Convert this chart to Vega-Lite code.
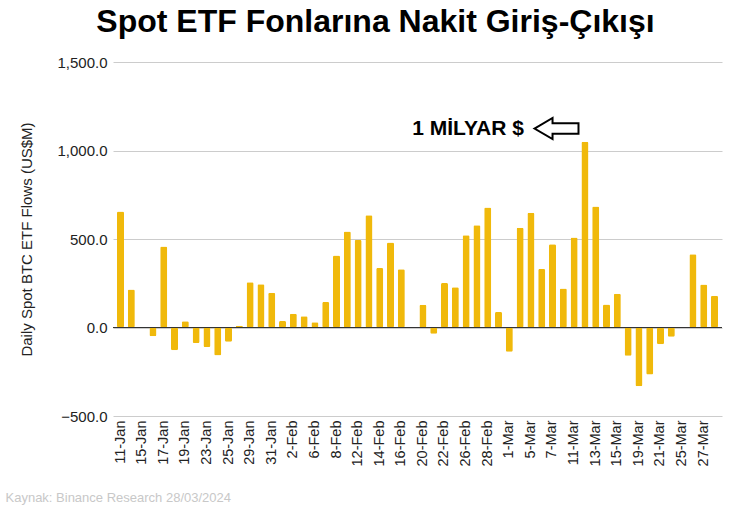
{
  "$schema": "https://vega.github.io/schema/vega-lite/v6.json",
  "width": 609,
  "height": 354,
  "autosize": "none",
  "padding": {"left": 113, "top": 62, "right": 17, "bottom": 101},
  "background": "white",
  "config": {
    "view": {"stroke": null},
    "font": "Liberation Sans"
  },
  "title": {
    "text": "Spot ETF Fonlarına Nakit Giriş-Çıkışı",
    "font": "Liberation Sans",
    "fontSize": 32,
    "fontWeight": "bold",
    "color": "#000000",
    "anchor": "middle",
    "frame": "group",
    "dx": -42,
    "offset": 16
  },
  "data": {
    "values": [
      {"date": "11-Jan", "flow": 655},
      {"date": "12-Jan", "flow": 215},
      {"date": "15-Jan", "flow": 0},
      {"date": "16-Jan", "flow": -50},
      {"date": "17-Jan", "flow": 458},
      {"date": "18-Jan", "flow": -128},
      {"date": "19-Jan", "flow": 36},
      {"date": "22-Jan", "flow": -87},
      {"date": "23-Jan", "flow": -110},
      {"date": "24-Jan", "flow": -158},
      {"date": "25-Jan", "flow": -80},
      {"date": "26-Jan", "flow": 10},
      {"date": "29-Jan", "flow": 256},
      {"date": "30-Jan", "flow": 244},
      {"date": "31-Jan", "flow": 196},
      {"date": "1-Feb", "flow": 37},
      {"date": "2-Feb", "flow": 78},
      {"date": "5-Feb", "flow": 64},
      {"date": "6-Feb", "flow": 30},
      {"date": "7-Feb", "flow": 144},
      {"date": "8-Feb", "flow": 407},
      {"date": "9-Feb", "flow": 542},
      {"date": "12-Feb", "flow": 494},
      {"date": "13-Feb", "flow": 634},
      {"date": "14-Feb", "flow": 336},
      {"date": "15-Feb", "flow": 480},
      {"date": "16-Feb", "flow": 329},
      {"date": "19-Feb", "flow": 0},
      {"date": "20-Feb", "flow": 129},
      {"date": "21-Feb", "flow": -36},
      {"date": "22-Feb", "flow": 251},
      {"date": "23-Feb", "flow": 228},
      {"date": "26-Feb", "flow": 521},
      {"date": "27-Feb", "flow": 578},
      {"date": "28-Feb", "flow": 678},
      {"date": "29-Feb", "flow": 88},
      {"date": "1-Mar", "flow": -137},
      {"date": "4-Mar", "flow": 564},
      {"date": "5-Mar", "flow": 649},
      {"date": "6-Mar", "flow": 330},
      {"date": "7-Mar", "flow": 471},
      {"date": "8-Mar", "flow": 220},
      {"date": "11-Mar", "flow": 508},
      {"date": "12-Mar", "flow": 1050},
      {"date": "13-Mar", "flow": 684},
      {"date": "14-Mar", "flow": 130},
      {"date": "15-Mar", "flow": 191},
      {"date": "18-Mar", "flow": -160},
      {"date": "19-Mar", "flow": -332},
      {"date": "20-Mar", "flow": -266},
      {"date": "21-Mar", "flow": -94},
      {"date": "22-Mar", "flow": -52},
      {"date": "25-Mar", "flow": 0},
      {"date": "26-Mar", "flow": 414},
      {"date": "27-Mar", "flow": 243},
      {"date": "28-Mar", "flow": 179}
    ]
  },
  "layer": [
    {
      "mark": {"type": "bar", "color": "#F0B90B", "cornerRadius": 1.5},
      "encoding": {
        "x": {
          "field": "date",
          "type": "ordinal",
          "sort": null,
          "scale": {"paddingInner": 0.35, "paddingOuter": 0.37},
          "axis": {
            "values": ["11-Jan","15-Jan","17-Jan","19-Jan","23-Jan","25-Jan","29-Jan","31-Jan","2-Feb","6-Feb","8-Feb","12-Feb","14-Feb","16-Feb","20-Feb","22-Feb","26-Feb","28-Feb","1-Mar","5-Mar","7-Mar","11-Mar","13-Mar","15-Mar","19-Mar","21-Mar","25-Mar","27-Mar"],
            "labelAngle": -90,
            "labelFontSize": 14.5,
            "labelColor": "#222222",
            "labelPadding": 4,
            "ticks": false,
            "domain": false,
            "grid": false,
            "title": "Kaynak: Binance Research 28/03/2024",
            "titleAnchor": "start",
            "titleAlign": "left",
            "titleX": -108,
            "titleY": 81,
            "titleBaseline": "middle",
            "titleFontSize": 13,
            "titleFontWeight": "normal",
            "titleColor": "#c8c8c8"
          }
        },
        "y": {
          "field": "flow",
          "type": "quantitative",
          "scale": {"domain": [-500, 1500], "nice": false},
          "axis": {
            "values": [-500, 0, 500, 1000, 1500],
            "format": ",.1f",
            "labelFontSize": 15,
            "labelColor": "#222222",
            "labelPadding": 6,
            "ticks": false,
            "domain": false,
            "gridColor": "#cccccc",
            "gridWidth": 1,
            "title": "Daily Spot BTC ETF Flows (US$M)",
            "titleFontSize": 15,
            "titleFontWeight": "normal",
            "titleColor": "#222222",
            "titlePadding": 22
          }
        }
      }
    },
    {
      "mark": {"type": "rule", "color": "#333333", "strokeWidth": 1},
      "encoding": {"y": {"datum": 0}}
    },
    {
      "data": {"values": [{"date": "26-Feb", "flow": 1124, "label": "1 MİLYAR $"}]},
      "mark": {"type": "text", "font": "Liberation Sans", "fontSize": 21, "fontWeight": "bold", "color": "#000000", "align": "center", "baseline": "middle", "dx": 2},
      "encoding": {
        "x": {"field": "date", "type": "ordinal", "sort": null},
        "y": {"field": "flow", "type": "quantitative"},
        "text": {"field": "label"}
      }
    },
    {
      "data": {"values": [{"date": "7-Mar", "flow": 1124}]},
      "mark": {
        "type": "point",
        "shape": "M-1,0 L-0.18,-0.48 L-0.18,-0.24 L1,-0.24 L1,0.24 L-0.18,0.24 L-0.18,0.48 Z",
        "size": 1936,
        "filled": false,
        "stroke": "#000000",
        "strokeWidth": 2,
        "fill": "#ffffff",
        "fillOpacity": 1,
        "opacity": 1,
        "xOffset": 4
      },
      "encoding": {
        "x": {"field": "date", "type": "ordinal", "sort": null},
        "y": {"field": "flow", "type": "quantitative"}
      }
    }
  ]
}
